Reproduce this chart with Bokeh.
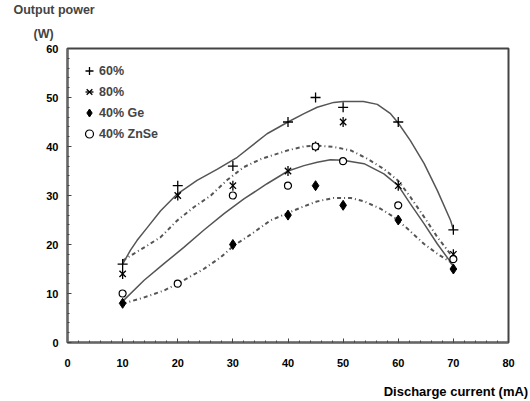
from bokeh.plotting import figure
from bokeh.models import Range1d, FixedTicker, Legend, LegendItem, Title
from bokeh.embed import file_html
from bokeh.resources import INLINE
import math

# ---- data ----
x_meas = [10, 20, 30, 40, 45, 50, 60, 70]
p60 = [16, 32, 36, 45, 50, 48, 45, 23]
p80 = [14, 30, 32, 35, 40, 45, 32, 18]
ge_x = [10, 30, 40, 45, 50, 60, 70]
ge = [8, 20, 26, 32, 28, 25, 15]
znse_x = [10, 20, 30, 40, 45, 50, 60, 70]
znse = [10, 12, 30, 32, 40, 37, 28, 17]

# fitted curves
fitA_x = [10, 11.4, 12.6, 14.5, 16.9, 19.9, 23.5, 27.2, 30.8, 36.2, 40, 42.9, 45.3, 48.3, 50, 53.7, 56.2, 58.6, 60, 62.2, 64.7, 67.1, 69.5, 70]
fitA_y = [16, 18.8, 20.8, 23.5, 26.9, 30.3, 33.1, 35.4, 37.8, 42.6, 45, 46.7, 48, 49, 49.2, 49.2, 48.6, 46.7, 44.8, 41.2, 36.5, 31, 24.9, 23]
fitB_x = [10, 12, 14.5, 16.9, 19.9, 22.9, 26, 29, 32, 35, 39.9, 42.9, 45.3, 48.3, 51.4, 54.4, 57.4, 60, 62.2, 64.7, 67.1, 69.5, 70]
fitB_y = [16.7, 18.1, 19.8, 21.5, 24.9, 27.6, 30, 33.2, 35.8, 37.4, 39.2, 40, 40.2, 39.9, 39.2, 37.5, 35.4, 33, 29.7, 25.6, 21.5, 18, 17.3]
fitC_x = [10, 13.9, 17.5, 21.1, 24.7, 28.4, 32, 36.2, 40, 42.9, 45.3, 47.7, 50, 53.8, 57.4, 60, 62.2, 64.7, 67.1, 69.5, 70]
fitC_y = [8.4, 12.7, 16.1, 19.4, 22.9, 26.3, 29.3, 32.4, 35, 36.1, 36.8, 37.3, 37.2, 36.5, 34.4, 32, 28.3, 24.2, 20.1, 16.4, 15.5]
fitD_x = [10, 13.9, 17.5, 21.1, 24.7, 27.8, 30.2, 33.2, 36.8, 39.9, 42.9, 45.3, 48.3, 51.4, 53.8, 56.8, 59.2, 61.7, 64.7, 67.1, 69.5, 70]
fitD_y = [7.9, 9.2, 10.6, 12.7, 15, 17.4, 19.8, 22, 24.9, 26.4, 27.8, 28.8, 29.5, 29.5, 28.8, 27.3, 25.6, 23.2, 20.1, 18.1, 16.4, 15.5]

x_ticks = [0, 10, 20, 30, 40, 50, 60, 70, 80]
y_ticks = [0, 10, 20, 30, 40, 50, 60]
labels = ["60%", "80%", "40% Ge", "40% ZnSe"]
y_title = ["Output power", "(W)"]
x_title = "Discharge current (mA)"

FONT = "Liberation Sans"

p = figure(width=530, height=401, output_backend="svg", toolbar_location=None,
           x_range=Range1d(0, 80), y_range=Range1d(0, 60),
           min_border_left=67, min_border_top=48, min_border_right=22, min_border_bottom=59)
p.xgrid.visible = False
p.ygrid.visible = False
p.outline_line_color = "#444444"
p.outline_line_width = 2

for ax, ticks in ((p.xaxis[0], x_ticks), (p.yaxis[0], y_ticks)):
    ax.ticker = FixedTicker(ticks=ticks, minor_ticks=[v for v in range(0, 81, 2)])
    ax.axis_line_color = "#666666"
    ax.axis_line_width = 2
    ax.major_tick_in = 4
    ax.major_tick_out = 0
    ax.minor_tick_in = 2
    ax.minor_tick_out = 0
    ax.major_tick_line_color = "#444444"
    ax.minor_tick_line_color = "#444444"
    ax.major_label_text_font = FONT
    ax.major_label_text_font_style = "bold"
    ax.major_label_text_font_size = "11px"
    ax.major_label_text_color = "black"
p.xaxis.major_label_standoff = 16
p.yaxis.major_label_standoff = 9

# x title sits at the right end, below the axis (axis label is centred on the
# frame, so it is padded on the left with non-breaking spaces)
xa = p.xaxis[0]
xa.axis_label = "\u00a0" * 93 + x_title
xa.axis_label_standoff = 14
xa.axis_label_text_font = FONT
xa.axis_label_text_font_style = "bold"
xa.axis_label_text_font_size = "13px"
xa.axis_label_text_color = "black"

# curves
p.line(fitA_x, fitA_y, line_color="#555555", line_width=1.5)
p.line(fitB_x, fitB_y, line_color="#555555", line_width=2, line_dash="4 3 1 3")
p.line(fitC_x, fitC_y, line_color="#555555", line_width=1.5)
p.line(fitD_x, fitD_y, line_color="#555555", line_width=2, line_dash="4 3 1 3")

# markers
r60 = p.scatter(x_meas, p60, marker="cross", size=10, line_color="black", line_width=1.3)
r80a = p.scatter(x_meas, p80, marker="x", size=9, line_color="black", line_width=1.3)
r80b = p.scatter(x_meas, p80, marker="dash", size=10, angle=math.pi / 2, line_color="black", line_width=1.3)
rge = p.scatter(ge_x, ge, marker="diamond", size=10, fill_color="black", line_color="black")
rzn = p.scatter(znse_x, znse, marker="circle", size=7, fill_color="white", line_color="black", line_width=1.2)

legend = Legend(items=[
    LegendItem(label=labels[0], renderers=[r60]),
    LegendItem(label=labels[1], renderers=[r80a, r80b]),
    LegendItem(label=labels[2], renderers=[rge]),
    LegendItem(label=labels[3], renderers=[rzn]),
], location="top_left")
legend.margin = 12
legend.padding = 11
legend.spacing = 0
legend.glyph_width = 20
legend.glyph_height = 21
legend.label_height = 21
legend.label_standoff = -3
legend.border_line_color = None
legend.background_fill_alpha = 0
legend.label_text_font = FONT
legend.label_text_font_style = "bold"
legend.label_text_font_size = "12.5px"
p.add_layout(legend)

p.add_layout(Title(text=y_title[1], align="left", offset=-34, standoff=16,
                   text_font=FONT, text_font_style="bold", text_font_size="12.5px"), "above")
p.add_layout(Title(text=y_title[0], align="left", offset=-54, standoff=0,
                   text_font=FONT, text_font_style="bold", text_font_size="12.5px"), "above")

open("out.html", "w").write(file_html(p, INLINE))
